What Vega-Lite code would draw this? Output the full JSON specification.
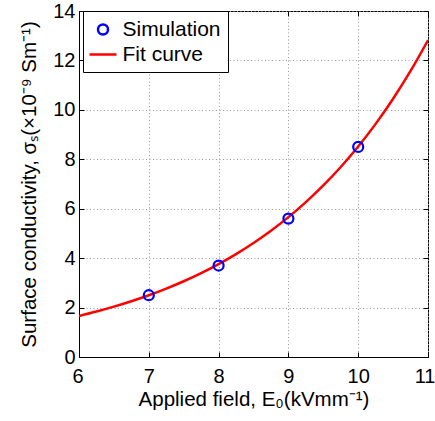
{
  "$schema": "https://vega.github.io/schema/vega-lite/v6.json",
  "width": 349,
  "height": 346,
  "autosize": {"type": "none"},
  "padding": {"left": 79, "top": 11, "right": 7, "bottom": 64},
  "background": "white",
  "config": {
    "font": "Liberation Sans",
    "view": {"stroke": "black", "strokeWidth": 1},
    "axis": {
      "labelFont": "Liberation Sans",
      "titleFont": "Liberation Sans",
      "labelFontSize": 20,
      "titleFontSize": 20.5,
      "labelColor": "black",
      "titleColor": "black",
      "titleFontWeight": "normal",
      "domainColor": "black",
      "tickColor": "black",
      "tickSize": -5,
      "labelFlush": false,
      "labelOverlap": false,
      "gridColor": "#9a9a9a",
      "gridDash": [1, 2.5],
      "gridWidth": 1,
      "domain": true
    },
    "legend": {
      "labelFont": "Liberation Sans",
      "labelFontSize": 21,
      "labelColor": "black",
      "orient": "none",
      "legendX": 4,
      "legendY": 0,
      "padding": 7,
      "symbolOffset": 1.5,
      "labelOffset": 8,
      "rowPadding": 3,
      "symbolSize": 400,
      "symbolStrokeWidth": 2.5,
      "strokeColor": "black",
      "fillColor": "white",
      "symbolFillColor": "transparent"
    }
  },
  "datasets": {
    "sim": [
      {"E": 7, "sigma": 2.5, "series": "Simulation"},
      {"E": 8, "sigma": 3.7, "series": "Simulation"},
      {"E": 9, "sigma": 5.6, "series": "Simulation"},
      {"E": 10, "sigma": 8.5, "series": "Simulation"}
    ],
    "fit": [
      {"E": 6.0, "sigma": 1.660, "series": "Fit curve"},
      {"E": 6.25, "sigma": 1.839, "series": "Fit curve"},
      {"E": 6.5, "sigma": 2.037, "series": "Fit curve"},
      {"E": 6.75, "sigma": 2.256, "series": "Fit curve"},
      {"E": 7.0, "sigma": 2.498, "series": "Fit curve"},
      {"E": 7.25, "sigma": 2.767, "series": "Fit curve"},
      {"E": 7.5, "sigma": 3.065, "series": "Fit curve"},
      {"E": 7.75, "sigma": 3.395, "series": "Fit curve"},
      {"E": 8.0, "sigma": 3.760, "series": "Fit curve"},
      {"E": 8.25, "sigma": 4.165, "series": "Fit curve"},
      {"E": 8.5, "sigma": 4.613, "series": "Fit curve"},
      {"E": 8.75, "sigma": 5.109, "series": "Fit curve"},
      {"E": 9.0, "sigma": 5.659, "series": "Fit curve"},
      {"E": 9.25, "sigma": 6.268, "series": "Fit curve"},
      {"E": 9.5, "sigma": 6.942, "series": "Fit curve"},
      {"E": 9.75, "sigma": 7.689, "series": "Fit curve"},
      {"E": 10.0, "sigma": 8.517, "series": "Fit curve"},
      {"E": 10.25, "sigma": 9.433, "series": "Fit curve"},
      {"E": 10.5, "sigma": 10.448, "series": "Fit curve"},
      {"E": 10.75, "sigma": 11.573, "series": "Fit curve"},
      {"E": 11.0, "sigma": 12.818, "series": "Fit curve"}
    ]
  },
  "layer": [
    {
      "data": {"name": "fit"},
      "mark": {"type": "line", "strokeWidth": 2.5, "interpolate": "monotone", "clip": true},
      "encoding": {
        "x": {
          "field": "E", "type": "quantitative",
          "scale": {"domain": [6, 11], "nice": false, "zero": false},
          "axis": {"values": [6, 7, 8, 9, 10, 11], "grid": true, "title": "Applied field, E₀(kVmm⁻¹)", "labelPadding": 14, "titlePadding": 3, "labelFlush": true, "labelFlushOffset": 7}
        },
        "y": {
          "field": "sigma", "type": "quantitative",
          "scale": {"domain": [0, 14], "nice": false},
          "axis": {"values": [0, 2, 4, 6, 8, 10, 12, 14], "grid": true, "title": "Surface conductivity, σₛ(×10⁻⁹ Sm⁻¹)", "labelPadding": 9, "titlePadding": 13}
        },
        "color": {
          "field": "series", "type": "nominal",
          "scale": {"domain": ["Simulation", "Fit curve"], "range": ["#0000ff", "#ff0000"]},
          "legend": {"title": null}
        }
      }
    },
    {
      "data": {"name": "sim"},
      "mark": {"type": "point", "filled": false, "strokeWidth": 2.2, "size": 400, "opacity": 1},
      "encoding": {
        "x": {
          "field": "E", "type": "quantitative",
          "axis": {"orient": "top", "values": [6, 7, 8, 9, 10, 11], "labels": false, "title": null, "grid": false, "domain": false}
        },
        "y": {
          "field": "sigma", "type": "quantitative",
          "axis": {"orient": "right", "values": [0, 2, 4, 6, 8, 10, 12, 14], "labels": false, "title": null, "grid": false, "domain": false}
        },
        "color": {
          "field": "series", "type": "nominal",
          "legend": {"title": null}
        },
        "shape": {
          "field": "series", "type": "nominal",
          "scale": {"domain": ["Simulation", "Fit curve"], "range": ["M-0.5,0A0.5,0.5 0 1,1 0.5,0A0.5,0.5 0 1,1 -0.5,0Z", "M-1.35,0H1.35"]},
          "legend": {"title": null}
        }
      }
    }
  ],
  "resolve": {"axis": {"x": "independent", "y": "independent"}}
}
